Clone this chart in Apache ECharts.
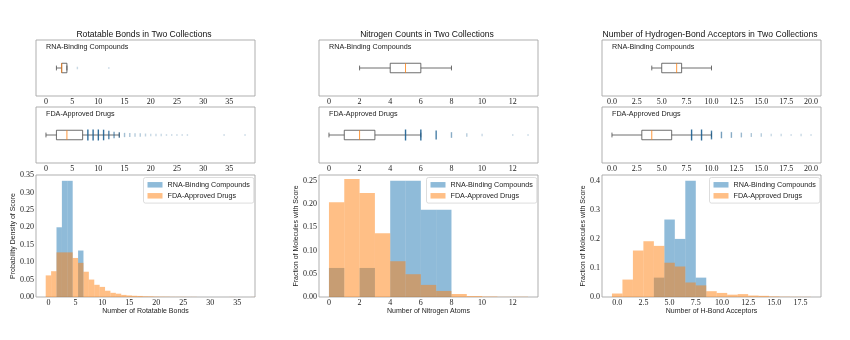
<!DOCTYPE html>
<html>
<head>
<meta charset="utf-8">
<script src="https://cdn.jsdelivr.net/npm/echarts@6/dist/echarts.min.js"></script>
<style>
  html, body { margin: 0; padding: 0; background: #fff; }
  #chart { width: 850px; height: 340px; }
</style>
</head>
<body>
<div id="chart"></div>
<script>
// ---------- Rotatable bonds ----------
const rotBondCounts = [0,1,2,3,4,5,6,7,8,9,10,11,12,13,14,15,16,17,18,19,20,21,22,23,24,25,26,27,28,29,30,31,32,33,34,35,36,37,38];
const rotDensityFDA = [0.062,0.074,0.128,0.128,0.128,0.112,0.098,0.0725,0.050,0.035,0.029,0.018,0.012,0.0095,0.006,0.0045,0.0035,0.003,0.002,0.0018,0.0012,0.001,0.0008,0.0005,0.0004,0.0005,0.0003,0.0003,0,0,0,0,0,0,0.0002,0,0,0,0.0002];
const rotDensityRNA = [0,0,0.2,0.3333,0.3333,0,0.1333,0,0,0,0,0,0,0,0,0,0,0,0,0,0,0,0,0,0,0,0,0,0,0,0,0,0,0,0,0,0,0,0];
const rotBoxRNA = [2, 3, 3, 4, 4];          // min whisker, Q1, median, Q3, max whisker
const rotBoxFDA = [0, 2, 4, 7, 14];
const rotPointsRNA = [6, 12];
const rotPointCountsRNA = [2, 1];
const rotPointsFDA = [8,9,10,11,12,13,14,15,16,17,18,19,20,21,22,23,24,25,26,27,34,38];
const rotPointCountsFDA = [40,32,26,20,15,11,9,6,5,4,4,3,2,2,2,1,1,1,1,1,1,1];
const rotTicks = [0,5,10,15,20,25,30,35];
const rotDensityTicks = [0,0.05,0.10,0.15,0.20,0.25,0.30,0.35];

// ---------- Nitrogen counts ----------
const nitAtomCounts = [0,1,2,3,4,5,6,7,8,9,10,11,12];
const nitFractionFDA = [0.204,0.254,0.224,0.137,0.077,0.049,0.026,0.013,0.0065,0.002,0.001,0.0003,0.0005];
const nitFractionRNA = [0.0625,0,0.0625,0,0.25,0.25,0.1875,0.1875,0,0,0,0,0];
const nitBoxRNA = [2, 4, 5, 6, 8];
const nitBoxFDA = [0, 1, 2, 3, 6];
const nitPointsFDA = [5,6,7,8,9,10,12,13];
const nitPointCountsFDA = [40,28,16,9,4,2,1,1];
const nitTicks = [0,2,4,6,8,10,12];
const nitFractionTicks = [0,0.05,0.10,0.15,0.20,0.25];

// ---------- Hydrogen-bond acceptors ----------
const hbaCounts = [0,1,2,3,4,5,6,7,8,9,10,11,12,13,14,15,16,17,18];
const hbaFractionFDA = [0.012,0.06,0.16,0.192,0.176,0.118,0.105,0.05,0.04,0.02,0.014,0.008,0.01,0.005,0.004,0.002,0.001,0.0007,0.0005];
const hbaFractionRNA = [0,0,0,0,0.0667,0.2667,0.2,0.4,0.0667,0,0,0,0,0,0,0,0,0,0];
const hbaBoxRNA = [4, 5, 6.5, 7, 10];
const hbaBoxFDA = [0, 3, 4, 6, 10];
const hbaPointsFDA = [8,9,10,11,12,13,14,15,16,17,18,19,20];
const hbaPointCountsFDA = [30,22,16,11,9,7,5,4,2,2,1,2,1];
const hbaBoxTicks = [0,2.5,5,7.5,10,12.5,15,17.5,20];
const hbaHistTicks = [0,2.5,5,7.5,10,12.5,15,17.5];
const hbaFractionTicks = [0,0.1,0.2,0.3,0.4];

const NAME_RNA = 'RNA-Binding Compounds';
const NAME_FDA = 'FDA-Approved Drugs';
const BLUE = '#1f77b4';
const ORANGE = '#ff7f0e';
const SANS = '"Liberation Sans", Arial, sans-serif';
const SERIF = '"Liberation Serif", "DejaVu Serif", serif';

const panels = [
  {
    title: 'Rotatable Bonds in Two Collections',
    boxRange: [-1.9, 39.9], histRange: [-2.3, 38.3], yMax: 0.35,
    boxTicks: rotTicks, histTicks: rotTicks, yTicks: rotDensityTicks,
    xFmt: v => String(v), yFmt: v => v.toFixed(2),
    bins: rotBondCounts, binShift: -0.5, fda: rotDensityFDA, rna: rotDensityRNA,
    boxRNA: rotBoxRNA, boxFDA: rotBoxFDA,
    ptsRNA: rotPointsRNA, ptsRNAn: rotPointCountsRNA, ptsFDA: rotPointsFDA, ptsFDAn: rotPointCountsFDA,
    xName: 'Number of Rotatable Bonds', yName: 'Probability Density of Score', yNameGap: 18.5
  },
  {
    title: 'Nitrogen Counts in Two Collections',
    boxRange: [-0.65, 13.65], histRange: [-0.65, 13.65], yMax: 0.2625,
    boxTicks: nitTicks, histTicks: nitTicks, yTicks: nitFractionTicks,
    xFmt: v => String(v), yFmt: v => v.toFixed(2),
    bins: nitAtomCounts, binShift: 0, fda: nitFractionFDA, rna: nitFractionRNA,
    boxRNA: nitBoxRNA, boxFDA: nitBoxFDA,
    ptsRNA: [], ptsRNAn: [], ptsFDA: nitPointsFDA, ptsFDAn: nitPointCountsFDA,
    xName: 'Number of Nitrogen Atoms', yName: 'Fraction of Molecules with Score', yNameGap: 17.5
  },
  {
    title: 'Number of Hydrogen-Bond Acceptors in Two Collections',
    boxRange: [-1, 21], histRange: [-1.45, 19.45], yMax: 0.42,
    boxTicks: hbaBoxTicks, histTicks: hbaHistTicks, yTicks: hbaFractionTicks,
    xFmt: v => v.toFixed(1), yFmt: v => v.toFixed(1),
    bins: hbaCounts, binShift: -0.5, fda: hbaFractionFDA, rna: hbaFractionRNA,
    boxRNA: hbaBoxRNA, boxFDA: hbaBoxFDA,
    ptsRNA: [], ptsRNAn: [], ptsFDA: hbaPointsFDA, ptsFDAn: hbaPointCountsFDA,
    xName: 'Number of H-Bond Acceptors', yName: 'Fraction of Molecules with Score', yNameGap: 14.5
  }
];

const panelLeft = [36, 319, 602];
const panelWidth = 219;
const rows = { box1: { top: 40, height: 56 }, box2: { top: 107, height: 56 }, hist: { top: 175, height: 122 } };

const grids = [], xAxes = [], yAxes = [], series = [], graphics = [], legends = [];

function tickLabel(fmt) {
  return { show: true, fontFamily: SERIF, fontSize: 8, color: '#222', margin: 2, formatter: fmt };
}

function boxRender(params, api) {
  const X = v => api.coord([v, 0.5])[0];
  const yc = api.coord([0, 0.5])[1];
  const lo = X(api.value(0)), q1 = X(api.value(1)), md = X(api.value(2)), q3 = X(api.value(3)), hi = X(api.value(4));
  const bh = 9.5, ch = 4.8;
  const line = { stroke: '#4a4a4a', lineWidth: 0.8, fill: null };
  return {
    type: 'group',
    children: [
      { type: 'line', shape: { x1: lo, y1: yc, x2: q1, y2: yc }, style: line },
      { type: 'line', shape: { x1: q3, y1: yc, x2: hi, y2: yc }, style: line },
      { type: 'line', shape: { x1: lo, y1: yc - ch / 2, x2: lo, y2: yc + ch / 2 }, style: line },
      { type: 'line', shape: { x1: hi, y1: yc - ch / 2, x2: hi, y2: yc + ch / 2 }, style: line },
      { type: 'rect', shape: { x: q1, y: yc - bh / 2, width: q3 - q1, height: bh }, style: { stroke: '#4a4a4a', lineWidth: 0.8, fill: 'none' } },
      { type: 'line', shape: { x1: md, y1: yc - bh / 2, x2: md, y2: yc + bh / 2 }, style: { stroke: ORANGE, lineWidth: 0.8 } }
    ]
  };
}

function pointRender(params, api) {
  const p = api.coord([api.value(0), 0.5]);
  const n = api.value(1);
  const h = Math.min(11, 1.6 + n * 0.45);
  const op = Math.min(0.9, 0.16 + n * 0.04);
  return {
    type: 'rect',
    shape: { x: p[0] - 0.7, y: p[1] - h / 2, width: 1.4, height: h },
    style: { fill: '#1c5f91', opacity: op }
  };
}

function histRender(color) {
  return function (params, api) {
    const lo = api.value(0), hi = api.value(1), h = api.value(2);
    if (!h) return null;
    const a = api.coord([lo, h]), b = api.coord([hi, 0]);
    return {
      type: 'rect',
      shape: { x: a[0], y: a[1], width: b[0] - a[0], height: b[1] - a[1] },
      style: { fill: color, opacity: 0.5 }
    };
  };
}

function addBoxGrid(p, left, row, label, box, pts, counts) {
  const g = grids.length;
  grids.push({ left: left, top: row.top, width: panelWidth, height: row.height, show: true, borderColor: '#a6a6a6', borderWidth: 0.9 });
  xAxes.push({
    gridIndex: g, type: 'value', min: p.boxRange[0], max: p.boxRange[1],
    axisLine: { show: false }, splitLine: { show: false },
    axisTick: { show: false, customValues: p.boxTicks },
    axisLabel: Object.assign(tickLabel(p.xFmt), { customValues: p.boxTicks })
  });
  yAxes.push({ gridIndex: g, type: 'value', min: 0, max: 1, show: false });
  series.push({
    type: 'custom', name: 'box', xAxisIndex: g, yAxisIndex: g, silent: true,
    renderItem: boxRender, data: [box], z: 3
  });
  if (pts.length) {
    series.push({
      type: 'custom', name: 'points', xAxisIndex: g, yAxisIndex: g, silent: true,
      renderItem: pointRender, data: pts.map((v, i) => [v, counts[i]]), z: 4
    });
  }
  graphics.push({
    type: 'text', left: left + 10, top: row.top + 3.5,
    style: { text: label, font: '7.2px ' + SANS, fill: '#222' }
  });
}

panels.forEach((p, i) => {
  const left = panelLeft[i];
  graphics.push({
    type: 'text', x: left + panelWidth / 2 - 1.5, y: 34.5,
    style: { text: p.title, font: '8.6px ' + SANS, fill: '#111', textAlign: 'center', textVerticalAlign: 'middle' }
  });
  addBoxGrid(p, left, rows.box1, NAME_RNA, p.boxRNA, p.ptsRNA, p.ptsRNAn);
  addBoxGrid(p, left, rows.box2, NAME_FDA, p.boxFDA, p.ptsFDA, p.ptsFDAn);

  const g = grids.length;
  grids.push({ left: left, top: rows.hist.top, width: panelWidth, height: rows.hist.height, show: true, borderColor: '#a6a6a6', borderWidth: 0.9 });
  xAxes.push({
    gridIndex: g, type: 'value', min: p.histRange[0], max: p.histRange[1],
    axisLine: { show: false }, splitLine: { show: false },
    axisTick: { show: false, customValues: p.histTicks },
    axisLabel: Object.assign(tickLabel(p.xFmt), { customValues: p.histTicks }),
    name: p.xName, nameLocation: 'middle', nameGap: 11,
    nameTextStyle: { fontFamily: SANS, fontSize: 7, color: '#222' }
  });
  yAxes.push({
    gridIndex: g, type: 'value', min: 0, max: p.yMax,
    axisLine: { show: false }, splitLine: { show: false },
    axisTick: { show: false, customValues: p.yTicks },
    axisLabel: Object.assign(tickLabel(p.yFmt), { customValues: p.yTicks }),
    name: p.yName, nameLocation: 'middle', nameRotate: 90, nameGap: p.yNameGap,
    nameTextStyle: { fontFamily: SANS, fontSize: 7, color: '#222' }
  });
  const toBins = vals => p.bins.map((c, k) => [c + p.binShift, c + p.binShift + 1, vals[k]]);
  series.push({
    type: 'custom', name: NAME_RNA, xAxisIndex: g, yAxisIndex: g, silent: true,
    itemStyle: { color: BLUE, opacity: 0.5 },
    renderItem: histRender(BLUE), data: toBins(p.rna), z: 2
  });
  series.push({
    type: 'custom', name: NAME_FDA, xAxisIndex: g, yAxisIndex: g, silent: true,
    itemStyle: { color: ORANGE, opacity: 0.5 },
    renderItem: histRender(ORANGE), data: toBins(p.fda), z: 3
  });
  legends.push({
    left: left + 107.5, top: 177.5, orient: 'vertical', selectedMode: false,
    itemWidth: 15, itemHeight: 5.5, itemGap: 3,
    padding: [3.3, 4, 3.3, 4],
    borderColor: '#d4d4d4', borderWidth: 0.8, borderRadius: 2,
    backgroundColor: 'rgba(255,255,255,0.8)',
    textStyle: { fontFamily: SANS, fontSize: 7.2, color: '#222', lineHeight: 8 },
    data: [
      { name: NAME_RNA, icon: 'rect', itemStyle: { color: '#8fbbd9', opacity: 1 } },
      { name: NAME_FDA, icon: 'rect', itemStyle: { color: '#ffbf86', opacity: 1 } }
    ],
    z: 10
  });
});

const chart = echarts.init(document.getElementById('chart'), null, { renderer: 'canvas' });
chart.setOption({
  animation: false,
  backgroundColor: '#fff',
  grid: grids,
  xAxis: xAxes,
  yAxis: yAxes,
  legend: legends,
  series: series,
  graphic: graphics
});
</script>
</body>
</html>
